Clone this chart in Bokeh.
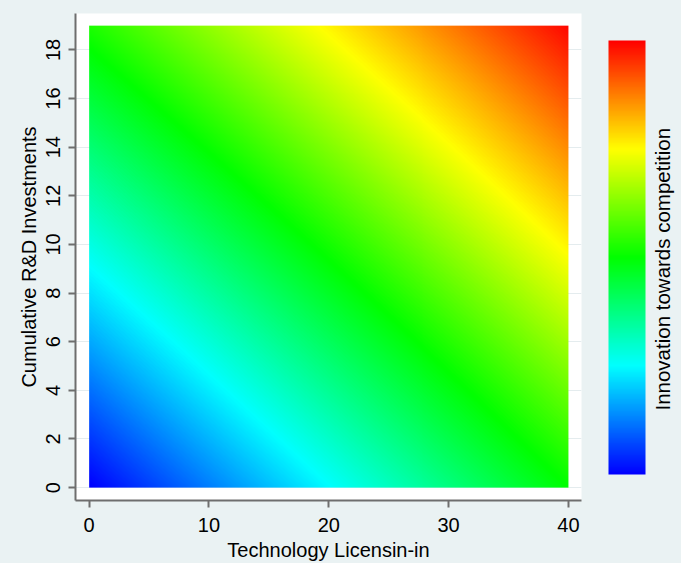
import numpy as np
from bokeh.plotting import figure
from bokeh.layouts import row
from bokeh.models import LinearColorMapper, ColorBar, Range1d, FixedTicker
from bokeh.core.properties import value
from bokeh.embed import file_html
from bokeh.resources import INLINE

# ---- data ----
x_ticks = [0, 10, 20, 30, 40]
y_ticks = [0, 2, 4, 6, 8, 10, 12, 14, 16, 18]
licensing_extent = [0, 40]          # Technology Licensin-in
rd_extent = [0, 19]                 # Cumulative R&D Investments
# predicted surface (read from colour positions): z = a*x + b*y + c*x*y
coef_licensing = [0.05]
coef_rd = [0.111]
coef_interaction = [-0.00018]
z_range = [0, 4]
# colour stops of the scale (blue -> cyan -> green -> yellow -> red)
stops = [(0, 0, 255), (0, 255, 255), (0, 255, 0), (255, 255, 0), (255, 0, 0)]
colorbar_title = "Innovation towards competition"

# ---- palette ----
palette = []
n = 256
for i in range(n):
    t = i / (n - 1) * (len(stops) - 1)
    k = min(int(t), len(stops) - 2)
    f = t - k
    c0, c1 = stops[k], stops[k + 1]
    rgb = [round(c0[j] + (c1[j] - c0[j]) * f) for j in range(3)]
    palette.append("#%02x%02x%02x" % tuple(rgb))

gx = np.linspace(licensing_extent[0], licensing_extent[1], 480)
gy = np.linspace(rd_extent[0], rd_extent[1], 462)
X, Y = np.meshgrid(gx, gy)
Z = coef_licensing[0] * X + coef_rd[0] * Y + coef_interaction[0] * X * Y

mapper = LinearColorMapper(palette=palette, low=z_range[0], high=z_range[1])

BG = "#EAF2F3"
FONT = "Liberation Sans"
H = 559

p = figure(width=647, height=H, output_backend="svg", toolbar_location=None,
           x_range=Range1d(-1.14, 41.09), y_range=Range1d(-0.53, 19.5),
           min_border_left=75, min_border_top=13, min_border_right=66, min_border_bottom=59,
           frame_width=506, frame_height=487)
p.border_fill_color = BG
p.background_fill_color = "white"
p.outline_line_color = None

p.image(image=[Z], x=licensing_extent[0], y=rd_extent[0],
        dw=licensing_extent[1] - licensing_extent[0], dh=rd_extent[1] - rd_extent[0],
        color_mapper=mapper)

p.xgrid.grid_line_color = None
p.ygrid.grid_line_color = "#E4ECEE"
p.ygrid.ticker = FixedTicker(ticks=y_ticks)

for ax in (p.xaxis, p.yaxis):
    ax.axis_line_color = "#6E6E6E"
    ax.axis_line_width = 2
    ax.major_tick_line_color = "#6E6E6E"
    ax.major_tick_line_width = 2
    ax.major_tick_out = 7
    ax.major_tick_in = 0
    ax.minor_tick_line_color = None
    ax.major_label_text_font = FONT
    ax.major_label_text_font_size = "20px"
    ax.major_label_text_color = "black"
    ax.axis_label_text_font = FONT
    ax.axis_label_text_font_size = "20px"
    ax.axis_label_text_font_style = "normal"
    ax.axis_label_text_color = "black"

p.xaxis.ticker = FixedTicker(ticks=x_ticks)
p.yaxis.ticker = FixedTicker(ticks=y_ticks)
p.xaxis.axis_label = "Technology Licensin-in"
p.yaxis.axis_label = "Cumulative R&D Investments"
p.yaxis.major_label_orientation = "vertical"
p.xaxis.major_label_standoff = 10
p.yaxis.major_label_standoff = 8
p.xaxis.axis_label_standoff = 4
p.yaxis.axis_label_standoff = 4

cb = ColorBar(color_mapper=mapper, width=37, height=434, padding=0, margin=0,
              location=(533, 26), ticker=FixedTicker(ticks=[]),
              major_tick_line_color=None, minor_tick_line_color=None,
              bar_line_color=None, border_line_color=None,
              background_fill_alpha=0, label_standoff=0)
p.add_layout(cb)

# narrow companion panel holding the colour-bar title (reads bottom to top)
QW = 34
q = figure(width=QW, height=H, output_backend="svg", toolbar_location=None,
           x_range=Range1d(0, QW), y_range=Range1d(0, H),
           x_axis_location=None, y_axis_location=None,
           min_border=0, min_border_left=0, min_border_right=0,
           min_border_top=0, min_border_bottom=0)
q.border_fill_color = BG
q.background_fill_color = BG
q.outline_line_color = None
q.grid.grid_line_color = None
q.text(x=[15], y=[263], text=[colorbar_title], angle=np.pi / 2,
       text_font=value(FONT), text_font_size="20.5px", text_color="black",
       text_align="center", text_baseline="middle")

layout = row(p, q, spacing=0, styles={"background-color": BG})
open("out.html", "w").write(file_html(layout, INLINE))
